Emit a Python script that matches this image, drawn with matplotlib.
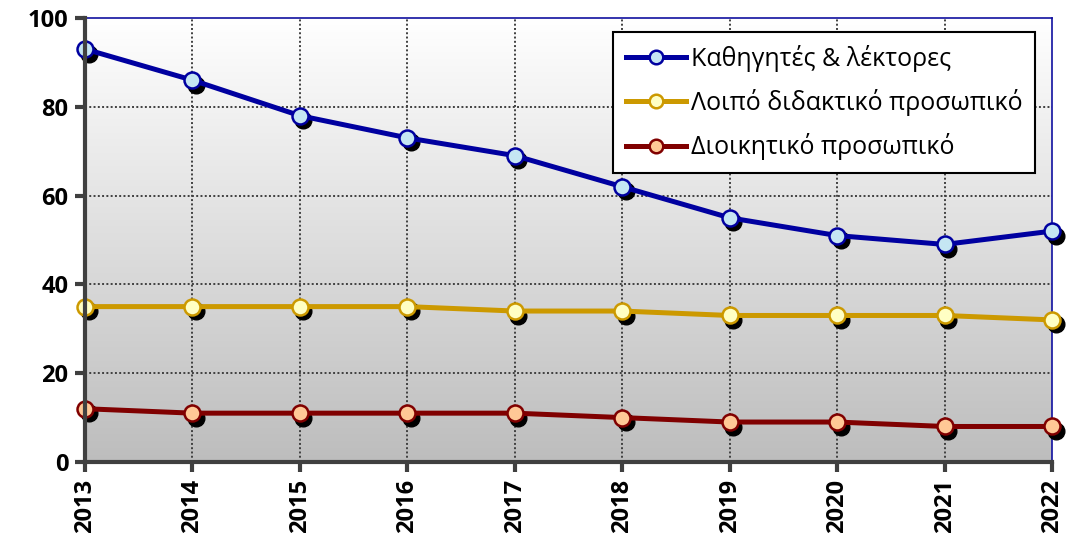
import numpy as np
import matplotlib
matplotlib.use("Agg")
import matplotlib.pyplot as plt
import matplotlib.transforms as mtransforms
from matplotlib.colors import LinearSegmentedColormap

years = ["2013", "2014", "2015", "2016", "2017", "2018", "2019", "2020", "2021", "2022"]
professors = [93, 86, 78, 73, 69, 62, 55, 51, 49, 52]
other_teaching = [35, 35, 35, 35, 34, 34, 33, 33, 33, 32]
administrative = [12, 11, 11, 11, 11, 10, 9, 9, 8, 8]
labels = ["Καθηγητές & λέκτορες", "Λοιπό διδακτικό προσωπικό", "Διοικητικό προσωπικό"]
y_ticks = [0, 20, 40, 60, 80, 100]

plt.rcParams['font.family'] = ['Open Sans', 'DejaVu Sans']

fig = plt.figure(figsize=(10.67, 5.43), dpi=100)
ax = fig.add_axes([85/1067, 1-462/543, (1052-85)/1067, (462-18)/543])

x = np.arange(len(years))
ax.set_xlim(0, len(years) - 1)
ax.set_ylim(0, 100)

# gradient background
cmap = LinearSegmentedColormap.from_list("g", ["#bdbdbd", "#ffffff"])
grad = np.linspace(0, 1, 256).reshape(-1, 1)
ax.imshow(grad, cmap=cmap, aspect='auto', extent=[0, len(years)-1, 0, 100],
          origin='lower', zorder=0)

# grid
for v in y_ticks[1:-1]:
    ax.axhline(v, color='#404040', lw=1.4, ls=(0, (1, 1.2)), zorder=1)
for xi in x[1:-1]:
    ax.axvline(xi, color='#404040', lw=1.4, ls=(0, (1, 1.2)), zorder=1)

series = [
    (professors, '#0000a0', '#c5e6f3'),
    (other_teaching, '#cc9900', '#ffffc4'),
    (administrative, '#800000', '#ffc896'),
]
shadow = ax.transData + mtransforms.ScaledTranslation(3.5/100, -4.5/100, fig.dpi_scale_trans)
for (vals, lc, fc), lab in zip(series, labels):
    ax.plot(x, vals, ls='none', marker='o', ms=12, mfc='black', mec='black',
            transform=shadow, zorder=3, clip_on=False)
    ax.plot(x, vals, color=lc, lw=3.6, marker='o', ms=11.5, mfc=fc, mec=lc,
            mew=1.8, label=lab, zorder=4, clip_on=False)

# spines
for s in ['left', 'bottom']:
    ax.spines[s].set_color('#404040')
    ax.spines[s].set_linewidth(3)
    ax.spines[s].set_zorder(5)
ax.spines['top'].set_color('#1010a0')
ax.spines['top'].set_linewidth(1.2)
ax.spines['top'].set_linestyle((0, (1, 1)))
ax.spines['right'].set_color('#1010a0')
ax.spines['right'].set_linewidth(1.2)

ax.set_xticks(x)
ax.set_xticklabels(years, rotation=90, fontsize=17, fontweight='bold')
ax.set_yticks(y_ticks)
ax.set_yticklabels([str(v) for v in y_ticks], fontsize=17, fontweight='bold')
ax.tick_params(axis='both', direction='out', length=7, width=3, color='#404040',
               labelcolor='black')
ax.tick_params(axis='y', pad=5)
ax.tick_params(axis='x', pad=5)

leg = ax.legend(loc='upper right', bbox_to_anchor=((1035-85)/(1052-85), 1-(32-18)/(462-18)),
                fontsize=18, frameon=True, fancybox=False, edgecolor='black',
                framealpha=1, handlelength=2.4, handletextpad=0.2, labelspacing=0.7,
                borderpad=0.5, borderaxespad=0, markerscale=0.85)
leg.get_frame().set_linewidth(1.5)
leg.set_zorder(10)

fig.savefig("out.png", dpi=100)
